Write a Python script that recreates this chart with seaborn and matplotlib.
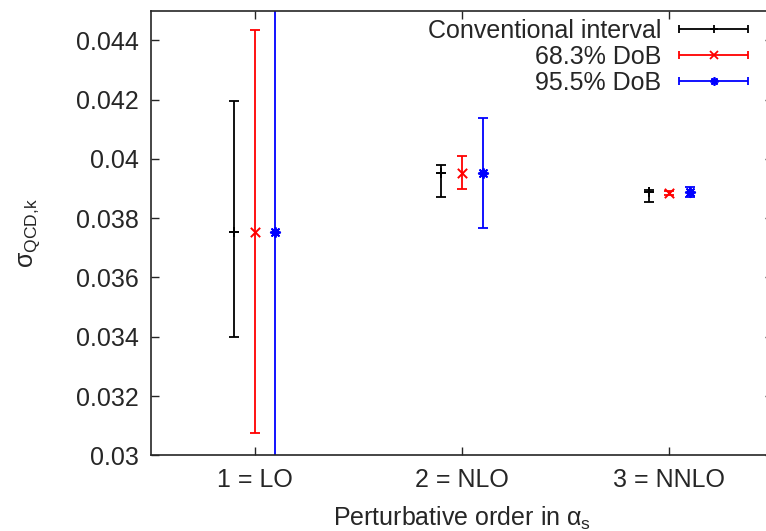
import numpy as np
import pandas as pd
import seaborn as sns
import matplotlib.pyplot as plt
from matplotlib.legend_handler import HandlerErrorbar

# perturbative orders and interval types
orders = [1, 2, 3]
order_labels = ["1 = LO", "2 = NLO", "3 = NNLO"]
intervals = ["Conventional interval", "68.3% DoB", "95.5% DoB"]
offsets = [-0.1, 0.0, 0.1]

# central values, lower and upper ends
central = {
    "Conventional interval": [0.03755, 0.03954, 0.03890],
    "68.3% DoB": [0.03755, 0.03954, 0.03886],
    "95.5% DoB": [0.03755, 0.03954, 0.03888],
}
lower = {
    "Conventional interval": [0.03400, 0.03870, 0.03855],
    "68.3% DoB": [0.03075, 0.03899, 0.03879],
    "95.5% DoB": [0.02300, 0.03767, 0.03872],
}
upper = {
    "Conventional interval": [0.04197, 0.03980, 0.03896],
    "68.3% DoB": [0.04436, 0.04011, 0.03893],
    "95.5% DoB": [0.05200, 0.04139, 0.03904],
}

colors = {"Conventional interval": "black", "68.3% DoB": "#ff0000", "95.5% DoB": "#0000ff"}
markers = {"Conventional interval": "+", "68.3% DoB": "x", "95.5% DoB": (8, 2, 0)}

rows = []
for name, off in zip(intervals, offsets):
    for i, o in enumerate(orders):
        rows.append({"interval": name, "x": o + off, "y": central[name][i],
                     "lo": lower[name][i], "hi": upper[name][i]})
df = pd.DataFrame(rows)

sns.set_style("ticks")
plt.rcParams["font.family"] = ["Liberation Sans", "DejaVu Sans"]
plt.rcParams["mathtext.fontset"] = "custom"
plt.rcParams["mathtext.rm"] = "Liberation Sans"
plt.rcParams["mathtext.it"] = "Liberation Sans"
plt.rcParams["mathtext.sf"] = "Liberation Sans"

FS = 18

fig = plt.figure(figsize=(7.66, 5.31), dpi=100)
ax = fig.add_axes([151 / 766, 1 - 455.3 / 531, (773 - 151) / 766, (455.3 - 10.7) / 531])

handles = []
for name in intervals:
    d = df[df.interval == name]
    ax.errorbar(d.x, d.y, yerr=[d.y - d.lo, d.hi - d.y], fmt="none",
                ecolor=colors[name], elinewidth=1.3, capsize=3.5, capthick=1.3)
    # proxy for gnuplot-style horizontal legend sample
    h = ax.errorbar([np.nan], [np.nan], xerr=[1], marker=markers[name], linestyle="none",
                    color=colors[name], ecolor=colors[name], elinewidth=1.3,
                    capsize=3, capthick=1.3, ms=6, mew=1.3, label=name)
    handles.append(h)

for name in intervals:
    d = df[df.interval == name]
    sns.scatterplot(data=d, x="x", y="y", ax=ax, marker=markers[name],
                    color=colors[name], s=45, linewidth=1.4,
                    legend=False, zorder=5)

ax.set_xlim(0.5, 3.5)
ax.set_ylim(0.03, 0.045)
ax.set_xticks(orders)
ax.set_xticklabels(order_labels)
yt = np.arange(0.030, 0.0441, 0.002)
ax.set_yticks(yt)
ax.set_yticklabels(["%g" % round(v, 3) for v in yt])
ax.tick_params(direction="in", length=6, width=1, labelsize=FS, pad=9,
               top=True, right=True)
for s in ax.spines.values():
    s.set_linewidth(1.2)

ax.set_xlabel(r"Perturbative order in $\alpha_{\rm s}$", fontsize=FS, labelpad=9)
ax.set_ylabel(r"$\sigma_{\rm QCD{,}k}$", fontsize=FS, labelpad=24)

leg = ax.legend(handles=handles, labels=intervals, loc="upper right",
                bbox_to_anchor=(748 / 766, 1 - 19 / 531), bbox_transform=fig.transFigure,
                frameon=False, markerfirst=False, fontsize=FS, handlelength=2.76,
                handletextpad=0.72, labelspacing=0.07, borderpad=0, borderaxespad=0,
                handler_map={type(handles[0]): HandlerErrorbar(xerr_size=1.38)})

fig.savefig("out.png", dpi=100)
